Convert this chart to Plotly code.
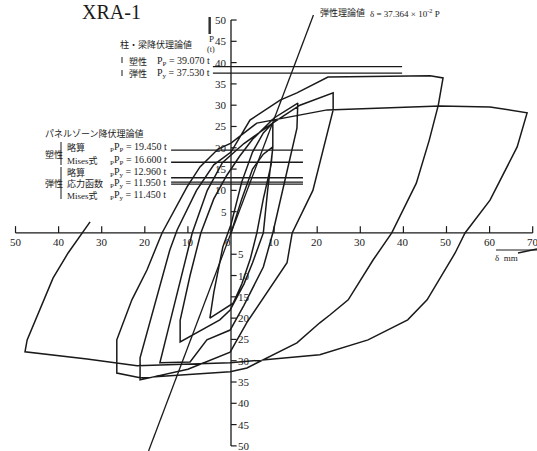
import plotly.graph_objects as go

# Load-displacement record of specimen XRA-1 (δ in mm, P in t), traced in test order
delta_mm = [
    0, 2.5, 5, 7.5, 9.7,
    9.3, 7.5, 6, 4.5, 2.5, 0.5, -4.9,
    -4, -1.9, 0, 2.5, 5, 7.5, 9.7,
    9.7, 8.5, 7.5, 5, 3, -0.2, -2.6, -11.8,
    -11.8, -9.5, -7, -4, -1, 2, 5, 10, 15.5,
    15.3, 12, 9.7, 7.5, 3, -0.2, -5.6, -9.5, -16.5,
    -14.2, -11.5, -9, -5.5, -2, 3, 10, 16, 23.7,
    23.7, 19, 14.2, 13, 3.7, -0.2, -10, -21.1,
    -21.1, -18.3, -14.2, -12.5, -8, -4, 0, 4.4, 11.4, 15.3, 22.5, 46.2, 49.2,
    48.1, 46, 43, 37.3, 33, 27.2, 23, 20.6, 15.3, 3.7, -0.2, -21.1, -26.5,
    -26.5, -23, -19.5, -16, -10.2, -7.2, -3, 0, 6, 22.3, 48.5, 60.1, 68.7,
    66.4, 60.1, 54.3, 52, 45.5, 41, 31.8, 20.6, -0.2, -21.8, -33.4, -47.8,
    -47.3, -41.3, -37.8, -34.6, -32.7,
]
load_t = [
    0, 8, 15, 18.5, 20.2,
    16, 8, 0, -6, -12, -16.5, -20,
    -14, -3.3, 2, 12, 19, 23.5, 25.8,
    20, 10, 0, -7, -12, -18.1, -20.4, -25.6,
    -20.5, -10, 0, 8, 13.5, 18, 22, 27, 30.5,
    24.6, 10, 0, -8, -17, -22.8, -25.1, -30.3, -30.5,
    -21.1, -10, 0, 10, 16.5, 21, 26, 30, 32.9,
    28.9, 10, 0, -7, -21, -28, -32, -34.5,
    -29.3, -18.8, -4, 0.7, 10, 16, 19, 26.5, 31.2, 32.9, 36.6, 36.9, 36.4,
    30, 21.8, 11.7, 0, -6.3, -15.7, -19.2, -21.1, -25.8, -31.7, -32.6, -34.0, -32.9,
    -25.1, -15.7, -8.7, 0, 10.8, 15.5, 19.7, 21.1, 25.8, 28.9, 29.8, 29.6, 28.2,
    20.2, 7.7, 0, -4.7, -15.7, -20.4, -25.1, -28.6, -30.5, -31.2, -29.6, -27.9,
    -25.1, -10.6, -4.7, 0, 2.6,
]

# Theoretical values (t)
frame_yield = {"Pp": 39.070, "Py": 37.530}
panel_yield = [19.450, 16.600, 12.960, 11.950, 11.450]
elastic_coef = 37.364e-2        # δ = 37.364×10^-2 · P
elastic_P = [-51.2, 51.2]

x_ticks = [-50, -40, -30, -20, -10, 0, 10, 20, 30, 40, 50, 60, 70]
y_ticks = [-50, -45, -40, -35, -30, -25, -20, -15, -10, -5, 5, 10, 15, 20, 25, 30, 35, 40, 45, 50]

W, H = 537, 451
XR = [-53.6, 71.0]
YR = [-51.2, 54.7]
INK = "#1a1a1a"
SERIF = "Liberation Serif, DejaVu Serif, serif"
JP = "Liberation Serif, Noto Sans CJK JP, serif"


def px(xp, yp):
    """pixel position -> paper coordinates"""
    return xp / W, 1 - yp / H


fig = go.Figure()

# axes drawn as plain lines
fig.add_trace(go.Scatter(x=[-50, 70], y=[0, 0], mode="lines",
                         line=dict(color=INK, width=1.3), hoverinfo="skip"))
fig.add_trace(go.Scatter(x=[0, 0], y=[-50, 50], mode="lines",
                         line=dict(color=INK, width=1.3), hoverinfo="skip"))
tx, ty = [], []
for v in x_ticks:
    tx += [v, v, None]
    ty += [0, 1.6, None]
for v in y_ticks:
    tx += [0, 1.3, None]
    ty += [v, v, None]
fig.add_trace(go.Scatter(x=tx, y=ty, mode="lines",
                         line=dict(color=INK, width=1.2), hoverinfo="skip"))

# theoretical yield lines
fx = [-4.2, 39.7]
for v in frame_yield.values():
    fig.add_trace(go.Scatter(x=fx, y=[v, v], mode="lines",
                             line=dict(color=INK, width=1.3), hoverinfo="skip"))
for v in panel_yield:
    fig.add_trace(go.Scatter(x=[-13.9, 16.7], y=[v, v], mode="lines",
                             line=dict(color=INK, width=1.3), hoverinfo="skip"))

# elastic theory line
fig.add_trace(go.Scatter(x=[elastic_coef * p for p in elastic_P], y=elastic_P,
                         mode="lines", line=dict(color=INK, width=1.3), hoverinfo="skip"))

# measured hysteresis
fig.add_trace(go.Scatter(x=delta_mm, y=load_t, mode="lines",
                         line=dict(color=INK, width=1.5), hoverinfo="skip"))

ann = []


def text(xp, yp, s, size=9, anchor="left", font=JP, yanchor="middle"):
    x, y = px(xp, yp)
    ann.append(dict(x=x, y=y, xref="paper", yref="paper", text=s, showarrow=False,
                    xanchor=anchor, yanchor=yanchor,
                    font=dict(family=font, size=size, color=INK)))


# tick labels
for v in x_ticks:
    ann.append(dict(x=v - (0.7 if v == 0 else 0), y=0, xref="x", yref="y", text=str(abs(v)),
                    showarrow=False, yshift=-9, font=dict(family=SERIF, size=11, color=INK)))
for v in y_ticks:
    if v > 0:
        ann.append(dict(x=0, y=v, xref="x", yref="y", text=str(v), showarrow=False,
                        xanchor="right", xshift=-2, font=dict(family=SERIF, size=11, color=INK)))
    else:
        ann.append(dict(x=0, y=v, xref="x", yref="y", text=str(-v), showarrow=False,
                        xanchor="left", xshift=5, font=dict(family=SERIF, size=11, color=INK)))

text(80, 12, "XRA-1", size=20, font=SERIF)
text(211, 39, "P", size=9, anchor="center", font=SERIF)
text(211, 50, "(t)", size=8, anchor="center", font=SERIF)
text(493, 258, "δ  mm", size=9, font=SERIF)

text(118, 45, "柱・梁降伏理論値", size=9)
text(127, 61, "塑性", size=9)
text(155, 61, "P<sub>P</sub> = 39.070 t", size=10, font=SERIF)
text(127, 73, "弾性", size=9)
text(155, 73, "P<sub>y</sub> = 37.530 t", size=10, font=SERIF)

text(318, 13, "弾性理論値", size=9)
text(368, 13, "δ = 37.364 × 10<sup>-2</sup> P", size=9, font=SERIF)

text(43, 133, "パネルゾーン降伏理論値", size=9)
text(43, 154, "塑性", size=9)
text(43, 183, "弾性", size=9)
text(65, 147, "略算", size=9)
text(65, 160, "Mises式", size=9)
text(65, 172, "略算", size=9)
text(65, 183, "応力函数", size=9)
text(65, 195, "Mises式", size=9)
labels = ["<sub>P</sub>P<sub>P</sub> = 19.450 t", "<sub>P</sub>P<sub>P</sub> = 16.600 t",
          "<sub>P</sub>P<sub>y</sub> = 12.960 t", "<sub>P</sub>P<sub>y</sub> = 11.950 t",
          "<sub>P</sub>P<sub>y</sub> = 11.450 t"]
for yp, s in zip([147, 160, 172, 183, 195], labels):
    text(108, yp, s, size=10, font=SERIF)

# brackets and arrows
shapes = []


def seg(x0, y0, x1, y1, w=1.0):
    a, b = px(x0, y0)
    c, d = px(x1, y1)
    shapes.append(dict(type="line", xref="paper", yref="paper", x0=a, y0=b, x1=c, y1=d,
                       line=dict(color=INK, width=w)))


seg(61, 142, 61, 165)
seg(61, 167, 61, 199)
seg(122, 57, 122, 63)
seg(122, 70, 122, 76)
seg(496, 250, 537, 250)
seg(518, 253, 537, 249, 1.3)
seg(209, 34, 209, 17, 1.0)
seg(210, 34, 210, 17, 1.6)

fig.update_layout(
    width=W, height=H, margin=dict(l=0, r=0, t=0, b=0),
    font=dict(family=SERIF, size=11, color=INK),
    paper_bgcolor="white", plot_bgcolor="white", showlegend=False,
    xaxis=dict(range=XR, visible=False, fixedrange=True),
    yaxis=dict(range=YR, visible=False, fixedrange=True),
    annotations=ann, shapes=shapes,
)
fig.write_html("out.html")
